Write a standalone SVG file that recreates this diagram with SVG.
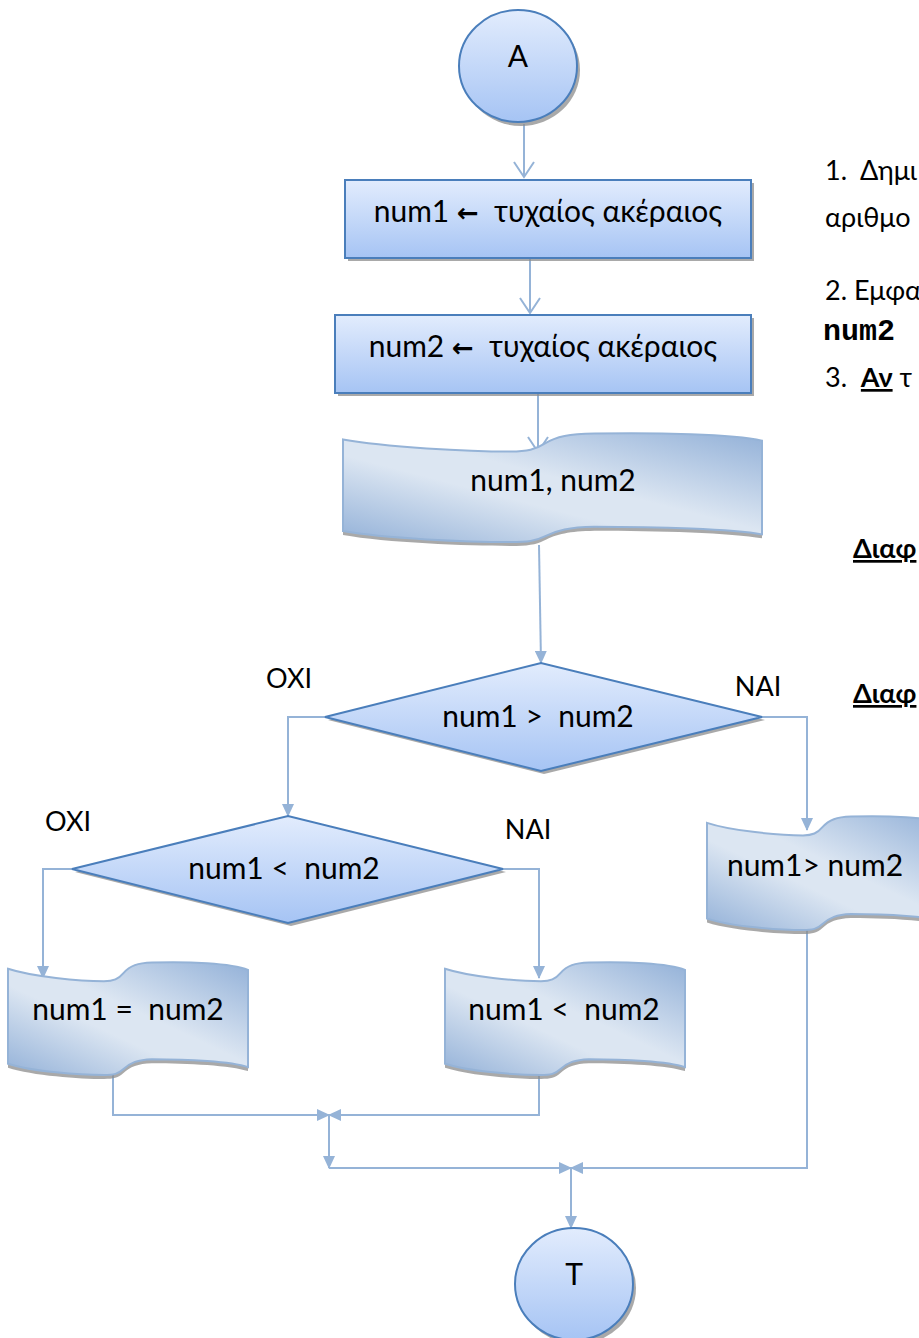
<svg xmlns="http://www.w3.org/2000/svg" xmlns:xlink="http://www.w3.org/1999/xlink" width="919" height="1338" viewBox="0 0 919 1338">
<style>
  .lbl { font-family: Lato, "Open Sans", "Liberation Sans", sans-serif; font-size: 30px; fill: #000; text-anchor: middle; white-space: pre; }
  .yn { font-family: Lato, "Open Sans", "Liberation Sans", sans-serif; font-size: 27px; fill: #000; text-anchor: middle; }
  .side { font-family: Lato, "Open Sans", "Liberation Sans", sans-serif; font-size: 27px; fill: #000; white-space: pre; }
  .mono { font-family: "Liberation Mono", "DejaVu Sans Mono", monospace; font-size: 30px; font-weight: bold; fill: #000; }
  .box { fill: url(#gBox); stroke: #4a7ebb; stroke-width: 2; }
  .shd { fill: #8c8c8c; opacity: 0.75; }
  .tape { fill: url(#gTape); stroke: #95b3d7; stroke-width: 2; }
  .conn { fill: none; stroke: #95b3d7; stroke-width: 2; }
  .arr { marker-end: url(#tri); }
  .oarr { marker-end: url(#open); }
  .arw { font-family: "DejaVu Sans", sans-serif; font-weight: bold; font-size: 26px; }
</style>
<defs>
  <linearGradient id="gBox" x1="0" y1="0" x2="0" y2="1">
    <stop offset="0" stop-color="#e2ecfd"/>
    <stop offset="1" stop-color="#a6c4f4"/>
  </linearGradient>
  <linearGradient id="gTape" x1="1" y1="0" x2="0" y2="1">
    <stop offset="0" stop-color="#93b1d8"/>
    <stop offset="0.45" stop-color="#dce6f2"/>
    <stop offset="0.6" stop-color="#dce6f2"/>
    <stop offset="1" stop-color="#93b1d8"/>
  </linearGradient>
  <path id="tapeP" d="M0,6 C10,13 30,17 40,17 C44,17 46,15 48,10 C51,3 54,1 60,0.5 C75,-0.5 93,1 100,7 L100,93 C93,88 75,86 60,86 C54,86.5 51,89 48,95 C46,99 44,100 40,100 C30,100 10,97 0,90 Z" vector-effect="non-scaling-stroke"/>
  <marker id="tri" viewBox="0 0 13 12" refX="12" refY="6" markerWidth="13" markerHeight="12" markerUnits="userSpaceOnUse" orient="auto">
    <path d="M0,0 L13,6 L0,12 Z" fill="#95b3d7"/>
  </marker>
  <marker id="open" viewBox="0 0 18 22" refX="16" refY="11" markerWidth="18" markerHeight="22" markerUnits="userSpaceOnUse" orient="auto">
    <path d="M1,1 L16,11 L1,21" fill="none" stroke="#95b3d7" stroke-width="2"/>
  </marker>
</defs>

<g id="connectors">
  <path class="conn oarr" d="M524,124 L524,177"/>
  <path class="conn oarr" d="M530,259 L530,313"/>
  <path class="conn oarr" d="M538,394 L538,452"/>
  <path class="conn arr" d="M539,545 L541,663"/>
  <path class="conn arr" d="M325,717 L288,717 L288,816"/>
  <path class="conn arr" d="M762,717 L807,717 L807,830"/>
  <path class="conn arr" d="M72,869 L43,869 L43,978"/>
  <path class="conn arr" d="M503,869 L539,869 L539,978"/>
  <path class="conn arr" d="M113,1073 L113,1115 L329,1115"/>
  <path class="conn arr" d="M539,1075 L539,1115 L329,1115"/>
  <path class="conn arr" d="M329,1115 L329,1168"/>
  <path class="conn arr" d="M329,1168 L571,1168"/>
  <path class="conn arr" d="M807,930 L807,1168 L571,1168"/>
  <path class="conn arr" d="M571,1168 L571,1228"/>
</g>

<g id="start">
  <ellipse class="shd" cx="521" cy="70" rx="59" ry="56"/>
  <ellipse class="box" cx="518" cy="66" rx="59" ry="56"/>
  <text class="lbl" x="518" y="67">A</text>
</g>

<g id="assign1">
  <rect class="shd" x="348" y="183" width="406" height="78"/>
  <rect class="box" x="345" y="180" width="406" height="78"/>
  <text class="lbl" x="548" y="222">num1 <tspan class="arw">←</tspan>  τυχαίος ακέραιος</text>
</g>

<g id="assign2">
  <rect class="shd" x="338" y="318" width="416" height="78"/>
  <rect class="box" x="335" y="315" width="416" height="78"/>
  <text class="lbl" x="543" y="357">num2 <tspan class="arw">←</tspan>  τυχαίος ακέραιος</text>
</g>

<g id="output1">
  <use href="#tapeP" class="shd" transform="translate(343,437) scale(4.19,1.09)"/>
  <use href="#tapeP" class="tape" transform="translate(343,433) scale(4.19,1.09)"/>
  <text class="lbl" x="553" y="491">num1, num2</text>
</g>

<g id="decision1">
  <polygon class="shd" points="328,720 544,666 765,720 544,774"/>
  <polygon class="box" points="325,717 541,663 762,717 541,771"/>
  <text class="lbl" x="538" y="727">num1 &gt;  num2</text>
  <text class="yn" x="289" y="688">OXI</text>
  <text class="yn" x="758" y="696">NAI</text>
</g>

<g id="decision2">
  <polygon class="shd" points="75,872 291,819 506,872 291,926"/>
  <polygon class="box" points="72,869 288,816 503,869 288,923"/>
  <text class="lbl" x="284" y="879">num1 &lt;  num2</text>
  <text class="yn" x="68" y="831">OXI</text>
  <text class="yn" x="528" y="839">NAI</text>
</g>

<g id="output_gt">
  <use href="#tapeP" class="shd" transform="translate(707,820) scale(2.4,1.14)"/>
  <use href="#tapeP" class="tape" transform="translate(707,816) scale(2.4,1.14)"/>
  <text class="lbl" x="815" y="876">num1&gt; num2</text>
</g>

<g id="output_eq">
  <use href="#tapeP" class="shd" transform="translate(8,966) scale(2.4,1.13)"/>
  <use href="#tapeP" class="tape" transform="translate(8,962) scale(2.4,1.13)"/>
  <text class="lbl" x="128" y="1020">num1 =  num2</text>
</g>

<g id="output_lt">
  <use href="#tapeP" class="shd" transform="translate(445,966) scale(2.4,1.13)"/>
  <use href="#tapeP" class="tape" transform="translate(445,962) scale(2.4,1.13)"/>
  <text class="lbl" x="564" y="1020">num1 &lt;  num2</text>
</g>

<g id="end">
  <ellipse class="shd" cx="577" cy="1288" rx="59" ry="56"/>
  <ellipse class="box" cx="574" cy="1284" rx="59" ry="56"/>
  <text class="lbl" x="574" y="1285">T</text>
</g>

<g id="sidetext">
  <text class="side" x="825" y="180">1.  Δημι</text>
  <text class="side" x="825" y="227">αριθμο</text>
  <text class="side" x="825" y="300">2. Εμφα</text>
  <text class="mono" x="823" y="340">num2</text>
  <text class="side" x="825" y="387">3.  <tspan font-weight="bold" text-decoration="underline">Αν</tspan> τ</text>
  <text class="side" x="853" y="558" font-weight="bold" text-decoration="underline">Διαφ</text>
  <text class="side" x="853" y="703" font-weight="bold" text-decoration="underline">Διαφ</text>
</g>
</svg>
